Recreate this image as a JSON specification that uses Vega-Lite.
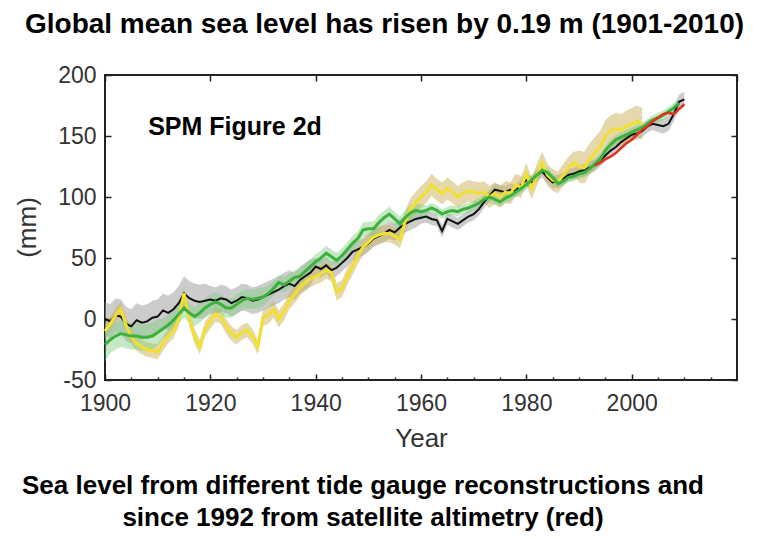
{
"$schema":"https://vega.github.io/schema/vega-lite/v6.json",
"width":632,"height":305,
"autosize":"none",
"padding":{"left":105,"top":75,"right":41,"bottom":159},
"background":"white",
"title":{"text":["Sea level from different tide gauge reconstructions and","since 1992 from satellite altimetry (red)"],"orient":"bottom","anchor":"middle","frame":"group","dx":-58,"offset":22,"font":"Liberation Sans","fontWeight":"bold","fontSize":26,"lineHeight":32,"color":"black"},
"config":{
"view":{"stroke":"#222","strokeWidth":2},
"axis":{"domain":false,"grid":false,"tickColor":"#222","tickWidth":1.5,"labelFont":"Liberation Sans","labelFontSize":23,"labelColor":"#333","labelFlush":false,"labelOverlap":false,"titleFont":"Liberation Sans","titleFontWeight":"normal","titleColor":"#333"}
},
"datasets":{
"black":[{"y":1900,"v":0,"e":14},{"y":1901,"v":-2,"e":14},{"y":1902,"v":3,"e":14},{"y":1903,"v":2,"e":14},{"y":1904,"v":-4,"e":14},{"y":1905,"v":-6,"e":14},{"y":1906,"v":-1,"e":14},{"y":1907,"v":-3,"e":14},{"y":1908,"v":-2,"e":14},{"y":1909,"v":1,"e":14},{"y":1910,"v":2,"e":14},{"y":1911,"v":7,"e":14},{"y":1912,"v":5,"e":14},{"y":1913,"v":8,"e":14},{"y":1914,"v":13,"e":14},{"y":1915,"v":21,"e":14},{"y":1916,"v":17,"e":14},{"y":1917,"v":15,"e":14},{"y":1918,"v":14,"e":14},{"y":1919,"v":15,"e":14},{"y":1920,"v":16,"e":11},{"y":1921,"v":15,"e":11},{"y":1922,"v":17,"e":11},{"y":1923,"v":16,"e":11},{"y":1924,"v":13,"e":11},{"y":1925,"v":15,"e":11},{"y":1926,"v":18,"e":11},{"y":1927,"v":17,"e":11},{"y":1928,"v":15,"e":11},{"y":1929,"v":16,"e":11},{"y":1930,"v":18,"e":11},{"y":1931,"v":20,"e":11},{"y":1932,"v":22,"e":11},{"y":1933,"v":24,"e":11},{"y":1934,"v":27,"e":11},{"y":1935,"v":29,"e":11},{"y":1936,"v":27,"e":11},{"y":1937,"v":32,"e":11},{"y":1938,"v":35,"e":11},{"y":1939,"v":38,"e":11},{"y":1940,"v":43,"e":7},{"y":1941,"v":41,"e":7},{"y":1942,"v":44,"e":7},{"y":1943,"v":40,"e":7},{"y":1944,"v":42,"e":7},{"y":1945,"v":46,"e":7},{"y":1946,"v":50,"e":7},{"y":1947,"v":55,"e":7},{"y":1948,"v":57,"e":7},{"y":1949,"v":59,"e":7},{"y":1950,"v":62,"e":7},{"y":1951,"v":66,"e":7},{"y":1952,"v":68,"e":7},{"y":1953,"v":70,"e":7},{"y":1954,"v":73,"e":7},{"y":1955,"v":71,"e":7},{"y":1956,"v":75,"e":7},{"y":1957,"v":78,"e":7},{"y":1958,"v":80,"e":7},{"y":1959,"v":82,"e":7},{"y":1960,"v":83,"e":5},{"y":1961,"v":84,"e":5},{"y":1962,"v":82,"e":5},{"y":1963,"v":81,"e":5},{"y":1964,"v":72,"e":5},{"y":1965,"v":82,"e":5},{"y":1966,"v":80,"e":5},{"y":1967,"v":78,"e":5},{"y":1968,"v":81,"e":5},{"y":1969,"v":84,"e":5},{"y":1970,"v":86,"e":5},{"y":1971,"v":90,"e":5},{"y":1972,"v":96,"e":5},{"y":1973,"v":101,"e":5},{"y":1974,"v":106,"e":5},{"y":1975,"v":105,"e":5},{"y":1976,"v":104,"e":5},{"y":1977,"v":106,"e":5},{"y":1978,"v":105,"e":5},{"y":1979,"v":110,"e":5},{"y":1980,"v":114,"e":5},{"y":1981,"v":112,"e":5},{"y":1982,"v":118,"e":5},{"y":1983,"v":121,"e":5},{"y":1984,"v":116,"e":5},{"y":1985,"v":112,"e":5},{"y":1986,"v":113,"e":5},{"y":1987,"v":115,"e":5},{"y":1988,"v":118,"e":5},{"y":1989,"v":119,"e":5},{"y":1990,"v":121,"e":5},{"y":1991,"v":122,"e":5},{"y":1992,"v":124,"e":5},{"y":1993,"v":126,"e":5},{"y":1994,"v":130,"e":5},{"y":1995,"v":134,"e":5},{"y":1996,"v":138,"e":5},{"y":1997,"v":141,"e":5},{"y":1998,"v":145,"e":5},{"y":1999,"v":148,"e":5},{"y":2000,"v":151,"e":5},{"y":2001,"v":152,"e":5},{"y":2002,"v":154,"e":5},{"y":2003,"v":158,"e":5},{"y":2004,"v":160,"e":5},{"y":2005,"v":159,"e":6},{"y":2006,"v":158,"e":6},{"y":2007,"v":160,"e":6},{"y":2008,"v":168,"e":6},{"y":2009,"v":178,"e":6},{"y":2010,"v":180,"e":6}],
"yellow":[{"y":1900,"v":-10,"e":6},{"y":1901,"v":-4,"e":6},{"y":1902,"v":3,"e":6},{"y":1903,"v":8,"e":6},{"y":1904,"v":-5,"e":6},{"y":1905,"v":-15,"e":6},{"y":1906,"v":-20,"e":6},{"y":1907,"v":-23,"e":6},{"y":1908,"v":-25,"e":6},{"y":1909,"v":-26,"e":6},{"y":1910,"v":-27,"e":6},{"y":1911,"v":-20,"e":6},{"y":1912,"v":-14,"e":6},{"y":1913,"v":-10,"e":6},{"y":1914,"v":0,"e":6},{"y":1915,"v":21,"e":6},{"y":1916,"v":0,"e":6},{"y":1917,"v":-14,"e":6},{"y":1918,"v":-23,"e":6},{"y":1919,"v":-8,"e":6},{"y":1920,"v":-2,"e":6},{"y":1921,"v":4,"e":6},{"y":1922,"v":2,"e":6},{"y":1923,"v":-6,"e":6},{"y":1924,"v":-12,"e":6},{"y":1925,"v":-15,"e":6},{"y":1926,"v":-11,"e":6},{"y":1927,"v":-9,"e":6},{"y":1928,"v":-14,"e":6},{"y":1929,"v":-23,"e":6},{"y":1930,"v":1,"e":7},{"y":1931,"v":3,"e":7},{"y":1932,"v":8,"e":7},{"y":1933,"v":0,"e":7},{"y":1934,"v":6,"e":7},{"y":1935,"v":15,"e":7},{"y":1936,"v":20,"e":7},{"y":1937,"v":26,"e":7},{"y":1938,"v":30,"e":7},{"y":1939,"v":33,"e":7},{"y":1940,"v":35,"e":7},{"y":1941,"v":37,"e":7},{"y":1942,"v":40,"e":7},{"y":1943,"v":38,"e":7},{"y":1944,"v":22,"e":7},{"y":1945,"v":25,"e":7},{"y":1946,"v":35,"e":7},{"y":1947,"v":43,"e":7},{"y":1948,"v":52,"e":7},{"y":1949,"v":59,"e":7},{"y":1950,"v":63,"e":7},{"y":1951,"v":67,"e":7},{"y":1952,"v":69,"e":7},{"y":1953,"v":70,"e":7},{"y":1954,"v":70,"e":7},{"y":1955,"v":68,"e":7},{"y":1956,"v":65,"e":7},{"y":1957,"v":80,"e":9},{"y":1958,"v":90,"e":9},{"y":1959,"v":95,"e":9},{"y":1960,"v":100,"e":9},{"y":1961,"v":104,"e":9},{"y":1962,"v":110,"e":9},{"y":1963,"v":106,"e":9},{"y":1964,"v":103,"e":9},{"y":1965,"v":107,"e":9},{"y":1966,"v":104,"e":9},{"y":1967,"v":100,"e":9},{"y":1968,"v":103,"e":9},{"y":1969,"v":105,"e":9},{"y":1970,"v":104,"e":9},{"y":1971,"v":103,"e":9},{"y":1972,"v":104,"e":9},{"y":1973,"v":100,"e":9},{"y":1974,"v":103,"e":9},{"y":1975,"v":100,"e":9},{"y":1976,"v":104,"e":9},{"y":1977,"v":103,"e":9},{"y":1978,"v":110,"e":9},{"y":1979,"v":108,"e":9},{"y":1980,"v":119,"e":9},{"y":1981,"v":107,"e":9},{"y":1982,"v":118,"e":9},{"y":1983,"v":128,"e":9},{"y":1984,"v":118,"e":9},{"y":1985,"v":114,"e":9},{"y":1986,"v":112,"e":9},{"y":1987,"v":118,"e":9},{"y":1988,"v":124,"e":9},{"y":1989,"v":128,"e":9},{"y":1990,"v":125,"e":13},{"y":1991,"v":124,"e":13},{"y":1992,"v":131,"e":13},{"y":1993,"v":136,"e":13},{"y":1994,"v":141,"e":13},{"y":1995,"v":150,"e":13},{"y":1996,"v":154,"e":13},{"y":1997,"v":156,"e":13},{"y":1998,"v":155,"e":13},{"y":1999,"v":158,"e":13},{"y":2000,"v":160,"e":13},{"y":2001,"v":162,"e":13},{"y":2002,"v":160,"e":13}],
"green":[{"y":1900,"v":-21,"e":14},{"y":1901,"v":-17,"e":11},{"y":1902,"v":-14,"e":11},{"y":1903,"v":-12,"e":11},{"y":1904,"v":-13,"e":11},{"y":1905,"v":-14,"e":11},{"y":1906,"v":-14,"e":11},{"y":1907,"v":-15,"e":11},{"y":1908,"v":-15,"e":11},{"y":1909,"v":-14,"e":11},{"y":1910,"v":-11,"e":11},{"y":1911,"v":-8,"e":8},{"y":1912,"v":-5,"e":8},{"y":1913,"v":-1,"e":8},{"y":1914,"v":4,"e":8},{"y":1915,"v":9,"e":8},{"y":1916,"v":5,"e":8},{"y":1917,"v":2,"e":8},{"y":1918,"v":5,"e":8},{"y":1919,"v":9,"e":8},{"y":1920,"v":12,"e":8},{"y":1921,"v":14,"e":8},{"y":1922,"v":12,"e":8},{"y":1923,"v":9,"e":8},{"y":1924,"v":9,"e":8},{"y":1925,"v":12,"e":8},{"y":1926,"v":15,"e":8},{"y":1927,"v":17,"e":8},{"y":1928,"v":16,"e":8},{"y":1929,"v":17,"e":8},{"y":1930,"v":18,"e":8},{"y":1931,"v":21,"e":6},{"y":1932,"v":25,"e":6},{"y":1933,"v":30,"e":6},{"y":1934,"v":28,"e":6},{"y":1935,"v":31,"e":6},{"y":1936,"v":34,"e":6},{"y":1937,"v":35,"e":6},{"y":1938,"v":39,"e":6},{"y":1939,"v":43,"e":6},{"y":1940,"v":47,"e":6},{"y":1941,"v":50,"e":6},{"y":1942,"v":54,"e":6},{"y":1943,"v":51,"e":6},{"y":1944,"v":48,"e":6},{"y":1945,"v":52,"e":6},{"y":1946,"v":57,"e":6},{"y":1947,"v":62,"e":6},{"y":1948,"v":66,"e":6},{"y":1949,"v":73,"e":6},{"y":1950,"v":74,"e":6},{"y":1951,"v":74,"e":6},{"y":1952,"v":79,"e":6},{"y":1953,"v":83,"e":6},{"y":1954,"v":86,"e":6},{"y":1955,"v":82,"e":6},{"y":1956,"v":78,"e":6},{"y":1957,"v":83,"e":6},{"y":1958,"v":87,"e":6},{"y":1959,"v":89,"e":6},{"y":1960,"v":88,"e":6},{"y":1961,"v":89,"e":4},{"y":1962,"v":91,"e":4},{"y":1963,"v":89,"e":4},{"y":1964,"v":86,"e":4},{"y":1965,"v":88,"e":4},{"y":1966,"v":89,"e":4},{"y":1967,"v":88,"e":4},{"y":1968,"v":90,"e":4},{"y":1969,"v":91,"e":4},{"y":1970,"v":93,"e":4},{"y":1971,"v":95,"e":4},{"y":1972,"v":98,"e":4},{"y":1973,"v":100,"e":4},{"y":1974,"v":98,"e":4},{"y":1975,"v":96,"e":4},{"y":1976,"v":99,"e":4},{"y":1977,"v":101,"e":4},{"y":1978,"v":104,"e":4},{"y":1979,"v":107,"e":4},{"y":1980,"v":110,"e":4},{"y":1981,"v":114,"e":4},{"y":1982,"v":118,"e":4},{"y":1983,"v":122,"e":4},{"y":1984,"v":120,"e":4},{"y":1985,"v":116,"e":4},{"y":1986,"v":111,"e":4},{"y":1987,"v":113,"e":4},{"y":1988,"v":116,"e":4},{"y":1989,"v":117,"e":4},{"y":1990,"v":119,"e":4},{"y":1991,"v":120,"e":4},{"y":1992,"v":123,"e":4},{"y":1993,"v":127,"e":4},{"y":1994,"v":131,"e":4},{"y":1995,"v":138,"e":4},{"y":1996,"v":143,"e":4},{"y":1997,"v":147,"e":4},{"y":1998,"v":149,"e":4},{"y":1999,"v":151,"e":4},{"y":2000,"v":153,"e":4},{"y":2001,"v":155,"e":4},{"y":2002,"v":157,"e":4},{"y":2003,"v":160,"e":4},{"y":2004,"v":163,"e":4},{"y":2005,"v":165,"e":4},{"y":2006,"v":167,"e":4},{"y":2007,"v":170,"e":4},{"y":2008,"v":173,"e":4},{"y":2009,"v":177,"e":4}],
"red":[{"y":1993,"v":126},{"y":1994,"v":128},{"y":1995,"v":131},{"y":1996,"v":133},{"y":1997,"v":136},{"y":1998,"v":140},{"y":1999,"v":144},{"y":2000,"v":147},{"y":2001,"v":151},{"y":2002,"v":155},{"y":2003,"v":158},{"y":2004,"v":162},{"y":2005,"v":165},{"y":2006,"v":168},{"y":2007,"v":169},{"y":2008,"v":168},{"y":2009,"v":172},{"y":2010,"v":176}]
},
"layer":[
{"data":{"name":"black"},"mark":{"type":"errorband","color":"#9a9a9a","band":{"opacity":0.5}},
 "encoding":{
  "x":{"field":"y","type":"quantitative","scale":{"domain":[1900,2020],"nice":false,"zero":false},
   "axis":{"orient":"bottom","values":[1900,1920,1940,1960,1980,2000],"format":"d","tickSize":-6,"labelPadding":18,"title":"Year","titleFontSize":26,"titleX":316,"titleY":66,"titleAlign":"center","titleBaseline":"alphabetic"}},
  "y":{"field":"v","type":"quantitative","scale":{"domain":[-50,200],"nice":false,"zero":false},
   "axis":{"orient":"left","values":[-50,0,50,100,150,200],"labelExpr":"replace(datum.label, '\u2212', '-')","tickSize":-6,"labelPadding":15,"title":"(mm)","titleFontSize":26,"titleX":-78,"titleY":152,"titleAngle":-90,"titleAlign":"center","titleBaseline":"middle"}},
  "yError":{"field":"e"}}},
{"data":{"name":"yellow"},"mark":{"type":"errorband","color":"#c9b25a","band":{"opacity":0.5}},
 "encoding":{
  "x":{"field":"y","type":"quantitative","axis":{"orient":"bottom","values":[1905,1910,1915,1925,1930,1935,1945,1950,1955,1965,1970,1975,1985,1990,1995,2005,2010,2015],"labels":false,"tickSize":-3,"title":null}},
  "y":{"field":"v","type":"quantitative","axis":null},
  "yError":{"field":"e"}}},
{"data":{"name":"green"},"mark":{"type":"errorband","color":"#7fcf7f","band":{"opacity":0.45}},
 "encoding":{
  "x":{"field":"y","type":"quantitative","axis":{"orient":"top","values":[1900,1920,1940,1960,1980,2000,2020],"labels":false,"tickSize":-6,"title":"Global mean sea level has risen by 0.19 m (1901-2010)","titleFont":"Liberation Sans","titleFontWeight":"bold","titleFontSize":28,"titleColor":"black","titleX":279,"titleY":-43,"titleAlign":"center","titleBaseline":"alphabetic","titleAngle":0}},
  "y":{"field":"v","type":"quantitative","axis":{"orient":"right","values":[-50,0,50,100,150,200],"labels":false,"tickSize":-6,"title":null}},
  "yError":{"field":"e"}}},
{"data":{"name":"black"},"mark":{"type":"line","color":"#111111","strokeWidth":2},
 "encoding":{"x":{"field":"y","type":"quantitative","axis":null},"y":{"field":"v","type":"quantitative","axis":null}}},
{"data":{"name":"yellow"},"mark":{"type":"line","color":"#f2e030","strokeWidth":3},
 "encoding":{"x":{"field":"y","type":"quantitative","axis":null},"y":{"field":"v","type":"quantitative","axis":null}}},
{"data":{"name":"green"},"mark":{"type":"line","color":"#3db03d","strokeWidth":3},
 "encoding":{"x":{"field":"y","type":"quantitative","axis":null},"y":{"field":"v","type":"quantitative","axis":null}}},
{"data":{"name":"red"},"mark":{"type":"line","color":"#e0301e","strokeWidth":2.5},
 "encoding":{"x":{"field":"y","type":"quantitative","axis":null},"y":{"field":"v","type":"quantitative","axis":null}}},
{"data":{"values":[{}]},"mark":{"type":"text","text":"SPM Figure 2d","font":"Liberation Sans","fontWeight":"bold","fontSize":25,"align":"left","baseline":"alphabetic","color":"black"},
 "encoding":{"x":{"datum":1908.2,"type":"quantitative","axis":null},"y":{"datum":151,"type":"quantitative","axis":null}}}
],
"resolve":{"axis":{"x":"independent","y":"independent"}}
}
